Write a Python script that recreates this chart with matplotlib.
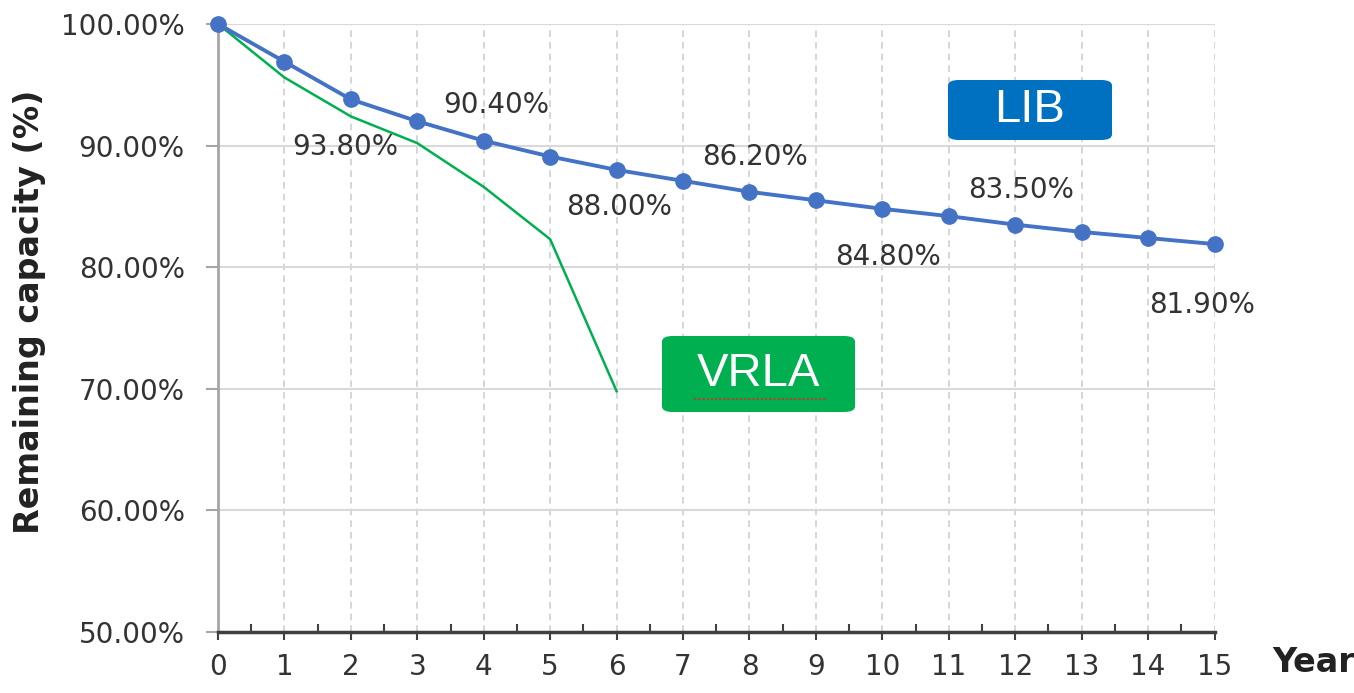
import matplotlib.pyplot as plt
from matplotlib.patches import FancyBboxPatch
from matplotlib.lines import Line2D

# Remaining capacity by year
years = list(range(16))
lib_capacity = [100.0, 96.9, 93.8, 92.0, 90.4, 89.1, 88.0, 87.1, 86.2, 85.5,
                84.8, 84.2, 83.5, 82.9, 82.4, 81.9]
vrla_years = [0, 1, 2, 3, 4, 5, 6]
vrla_capacity = [100.0, 95.6, 92.4, 90.2, 86.6, 82.3, 69.8]

# which LIB points get a value label, and where the label sits (points)
label_years = [2, 4, 6, 8, 10, 12, 15]
label_offsets = [(-4, -34), (9, 26), (2, -27), (4, 25), (4, -35), (4, 25), (-9, -44)]

y_ticks = [50, 60, 70, 80, 90, 100]

LIB_BLUE = "#4472C4"
VRLA_GREEN = "#00B050"

fig = plt.figure(figsize=(13.54, 6.93), dpi=100)
ax = fig.add_axes([0.161, 0.088, 0.736, 0.8774])

ax.set_xlim(0, 15)
ax.set_ylim(50, 100)

# grid: solid horizontals, dashed verticals
ax.set_yticks(y_ticks)
ax.set_yticklabels([f"{v:.2f}%" for v in y_ticks])
ax.set_xticks(years)
ax.set_xticks([y + 0.5 for y in years[:-1]], minor=True)
ax.grid(axis="y", color="#D9D9D9", linewidth=1.5, linestyle="-")
ax.grid(axis="x", color="#CFCFCF", linewidth=1.2, linestyle=(0, (4, 3)))
ax.set_axisbelow(True)

for side in ("top", "right"):
    ax.spines[side].set_visible(False)
ax.spines["left"].set_color("#A6A6A6")
ax.spines["left"].set_linewidth(2)
ax.spines["bottom"].set_color("#404040")
ax.spines["bottom"].set_linewidth(2.5)

ax.tick_params(axis="y", which="major", direction="out", length=9, width=1.5,
               color="#A6A6A6", labelsize=20, labelcolor="#333333", pad=15)
ax.tick_params(axis="x", which="major", direction="out", length=6, width=1.5,
               color="#404040", labelsize=20, labelcolor="#333333", pad=9)
ax.tick_params(axis="x", which="minor", direction="in", length=6, width=1.5,
               color="#404040")

ax.plot(vrla_years, vrla_capacity, color=VRLA_GREEN, linewidth=1.8, zorder=3)
ax.plot(years, lib_capacity, color=LIB_BLUE, linewidth=2.8, marker="o",
        markersize=11, zorder=4, clip_on=False)

for yr, off in zip(label_years, label_offsets):
    val = lib_capacity[yr]
    ax.annotate(f"{val:.2f}%", (yr, val), xytext=off, textcoords="offset points",
                ha="center", va="center", fontsize=20, color="#333333",
                annotation_clip=False)

# series name boxes
def name_box(x, y, w, h, text, color):
    box = FancyBboxPatch((x, y), w, h, boxstyle="round,pad=0,rounding_size=0.008",
                         transform=fig.transFigure, facecolor=color,
                         edgecolor="none", zorder=5)
    fig.patches.append(box)
    fig.text(x + w / 2, y + h / 2, text, color="white", fontsize=34,
             family="Liberation Sans", ha="center", va="center", zorder=6)

name_box(948 / 1354, 1 - 140 / 693, 164 / 1354, 60 / 693, "LIB", "#0070C0")
name_box(662 / 1354, 1 - 412 / 693, 193 / 1354, 76 / 693, "VRLA", VRLA_GREEN)

# red squiggle under the VRLA word
fig.add_artist(Line2D([694 / 1354, 826 / 1354], [1 - 399 / 693, 1 - 399 / 693],
                      color="#C0392B", linewidth=1.2, linestyle=(0, (1.5, 1)),
                      zorder=7))

fig.text(30 / 1354, 1 - 312 / 693, "Remaining capacity (%)", rotation=90,
         ha="center", va="center", fontsize=24, fontweight="bold", color="#222222")
fig.text(1272 / 1354, 1 - 663 / 693, "Year", ha="left", va="center",
         fontsize=24, fontweight="bold", color="#222222")

fig.savefig("out.png", dpi=100)
